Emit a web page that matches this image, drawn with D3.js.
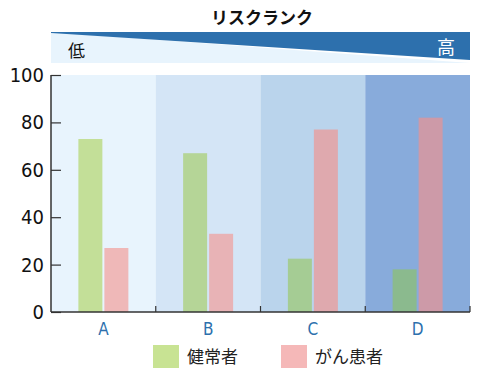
<!DOCTYPE html>
<html>
<head>
<meta charset="utf-8">
<script src="https://cdn.jsdelivr.net/npm/d3@7"></script>
<style>
  body { margin: 0; background: #fff; }
  text { font-family: "Noto Sans CJK JP", "Noto Sans", sans-serif; }
</style>
</head>
<body>
<div id="chart"></div>
<script>
const categories = ['A', 'B', 'C', 'D']
const healthy = [73, 67, 22.5, 18]
const patients = [27, 33, 77, 82]
const yTicks = [0, 20, 40, 60, 80, 100]
const seriesNames = ['健常者', 'がん患者']

// colours per risk rank (background / healthy / patient)
const bandColors = ['#e8f4fd', '#d4e5f6', '#bad4ec', '#88abdb']
const greenColors = ['#c3df98', '#b5d597', '#a5cc94', '#8bba8e']
const pinkColors = ['#efb8b8', '#e8b3b6', '#dfa9ae', '#cd9aa8']

const W = 488, H = 389
const m = {left: 51, right: 18, top: 75, bottom: 77}

const svg = d3.select('#chart').append('svg')
  .attr('width', W).attr('height', H)

const x = d3.scaleBand().domain(categories).range([m.left, W - m.right])
const y = d3.scaleLinear().domain([0, 100]).range([H - m.bottom, m.top])

// header
svg.append('text')
  .attr('x', 262).attr('y', 24)
  .attr('text-anchor', 'middle')
  .attr('font-size', 17).attr('font-weight', 'bold')
  .attr('fill', '#111')
  .text('リスクランク')

const bx0 = m.left, bx1 = W - m.right
svg.append('rect').attr('x', bx0).attr('y', 32).attr('width', bx1 - bx0).attr('height', 31).attr('fill', '#e8f4fd')
svg.append('path').attr('d', `M${bx0},32L${bx1},32L${bx1},63Z`).attr('fill', '#fff')
svg.append('path').attr('d', `M${bx0},32L${bx1},32L${bx1},60L${bx0},33Z`).attr('fill', '#2d70ad')
svg.append('text').attr('x', 68).attr('y', 57).attr('font-size', 17).attr('fill', '#111').text('低')
svg.append('text').attr('x', 437).attr('y', 54).attr('font-size', 18).attr('fill', '#fff').text('高')

// background bands
svg.append('g').selectAll('rect').data(categories).join('rect')
  .attr('x', d => x(d)).attr('y', y(100))
  .attr('width', x.bandwidth()).attr('height', y(0) - y(100))
  .attr('fill', (d, i) => bandColors[i])

// bars
const bw = 24, gap = 2
const g = svg.append('g')
g.selectAll('.h').data(healthy).join('rect')
  .attr('x', (d, i) => x(categories[i]) + x.bandwidth() / 2 - bw - gap / 2)
  .attr('y', d => y(d)).attr('width', bw).attr('height', d => y(0) - y(d))
  .attr('fill', (d, i) => greenColors[i])
g.selectAll('.p').data(patients).join('rect')
  .attr('x', (d, i) => x(categories[i]) + x.bandwidth() / 2 + gap / 2)
  .attr('y', d => y(d)).attr('width', bw).attr('height', d => y(0) - y(d))
  .attr('fill', (d, i) => pinkColors[i])

// y axis
const yAxis = svg.append('g').attr('transform', `translate(${m.left},0)`)
  .call(d3.axisLeft(y).tickValues(yTicks).tickSize(-10).tickPadding(7))
yAxis.select('.domain').attr('d', `M0,${y(100)}V${y(0)}`).attr('stroke', '#333').attr('stroke-width', 1.5)
yAxis.selectAll('.tick line').attr('stroke', '#333').attr('stroke-width', 1.2)
yAxis.selectAll('.tick text').attr('font-size', 20).attr('fill', '#111')
  .style('font-family', '"Liberation Sans Narrow", "DejaVu Sans Condensed", "Noto Sans", sans-serif')

// x axis
const xAxis = svg.append('g').attr('transform', `translate(0,${y(0)})`)
xAxis.append('line').attr('x1', m.left).attr('x2', W - m.right)
  .attr('stroke', '#333').attr('stroke-width', 1.5)
xAxis.selectAll('.bt').data(categories).join('line')
  .attr('x1', (d, i) => x(categories[0]) + x.bandwidth() * (i + 1))
  .attr('x2', (d, i) => x(categories[0]) + x.bandwidth() * (i + 1))
  .attr('y1', 0).attr('y2', -6).attr('stroke', '#333').attr('stroke-width', 1.2)
xAxis.selectAll('.lbl').data(categories).join('text')
  .attr('x', d => x(d) + x.bandwidth() / 2).attr('y', 23)
  .attr('text-anchor', 'middle').attr('font-size', 17).attr('fill', '#2d70ad')
  .style('font-family', '"Liberation Sans Narrow", "DejaVu Sans Condensed", "Noto Sans", sans-serif')
  .text(d => d)

// legend
const legendX = [153, 281]
const legendColors = ['#c8e393', '#f5b8b8']
const lg = svg.append('g').selectAll('g').data(seriesNames).join('g')
  .attr('transform', (d, i) => `translate(${legendX[i]},345)`)
lg.append('rect').attr('width', 26).attr('height', 23).attr('fill', (d, i) => legendColors[i])
lg.append('text').attr('x', 34).attr('y', 18).attr('font-size', 17).attr('fill', '#222').text(d => d)
</script>
</body>
</html>
